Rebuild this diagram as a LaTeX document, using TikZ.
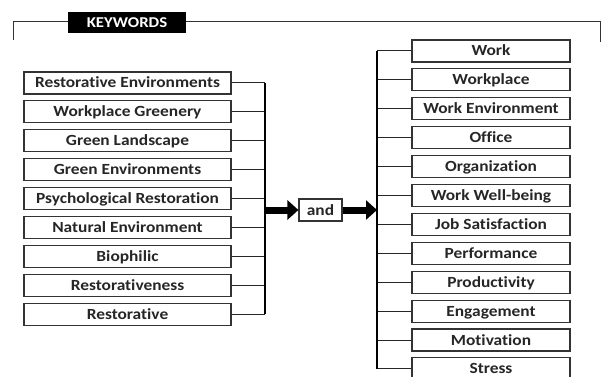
\documentclass[tikz,border=0pt]{standalone}
\usepackage{fontspec}
\setmainfont{Carlito}
\newfontfamily\boxfont[FakeStretch=1.12, Ligatures=NoCommon]{Carlito}
\usetikzlibrary{arrows.meta}
\begin{document}
\begin{tikzpicture}[x=1pt,y=-1pt,
  term/.style={draw=black!80, line width=1.1pt, fill=white, inner sep=0pt,
    minimum height=22pt, text height=10pt, text depth=0pt,
    font=\boxfont\bfseries\fontsize{15.5}{17}\selectfont, text=black!85},
  lterm/.style={term, minimum width=207pt},
  rterm/.style={term, minimum width=158pt},
  link/.style={draw=black!85, line width=1pt},
  bus/.style={draw=black, line width=1.4pt},
  bigarrow/.style={draw=black, line width=7pt, -{Triangle[length=11pt,width=19pt]}},
  frame/.style={draw=black!80, line width=1pt}]
\useasboundingbox (0,0) rectangle (602,377);

% frame line with the KEYWORDS tab
\coordinate (fl) at (13,40);
\coordinate (fr) at (600,42);
\draw[frame] (fl) |- (fr |- 0,22) -- (fr);
\node[fill=black, text=white, inner sep=0pt, minimum width=118pt, minimum height=21pt,
  text height=10pt, text depth=0pt,
  font=\boxfont\bfseries\fontsize{15}{17}\selectfont] (kw) at (127,22.5) {KEYWORDS};

% left column
\foreach \t [count=\i] in {Restorative Environments, Workplace Greenery, Green Landscape,
  Green Environments, Psychological Restoration, Natural Environment, Biophilic,
  Restorativeness, Restorative}
  \node[lterm] (L\i) at (127.5, {83 + 28.9*(\i-1)}) {\t};

% right column
\foreach \t [count=\i] in {Work, Workplace, Work Environment, Office, Organization,
  Work Well-being, Job Satisfaction, Performance, Productivity, Engagement,
  Motivation, Stress}
  \node[rterm] (R\i) at (491, {51 + 28.9*(\i-1)}) {\t};

\node[term, minimum width=43pt] (and) at (320.5,210) {and};

\coordinate (lbus) at (265,210);
\coordinate (rbus) at (377,210);

\foreach \i in {1,...,9}
  \draw[link] (L\i.east) -- (L\i.east -| lbus);
\foreach \i in {1,...,12}
  \draw[link] (R\i.west) -- (R\i.west -| rbus);

\draw[bus] (L1.east -| lbus) -- (L9.east -| lbus);
\draw[bus] (R1.west -| rbus) -- (R12.west -| rbus);

\draw[bigarrow] (lbus) -- (and.west);
\draw[bigarrow] (and.east) -- (rbus);
\end{tikzpicture}
\end{document}
